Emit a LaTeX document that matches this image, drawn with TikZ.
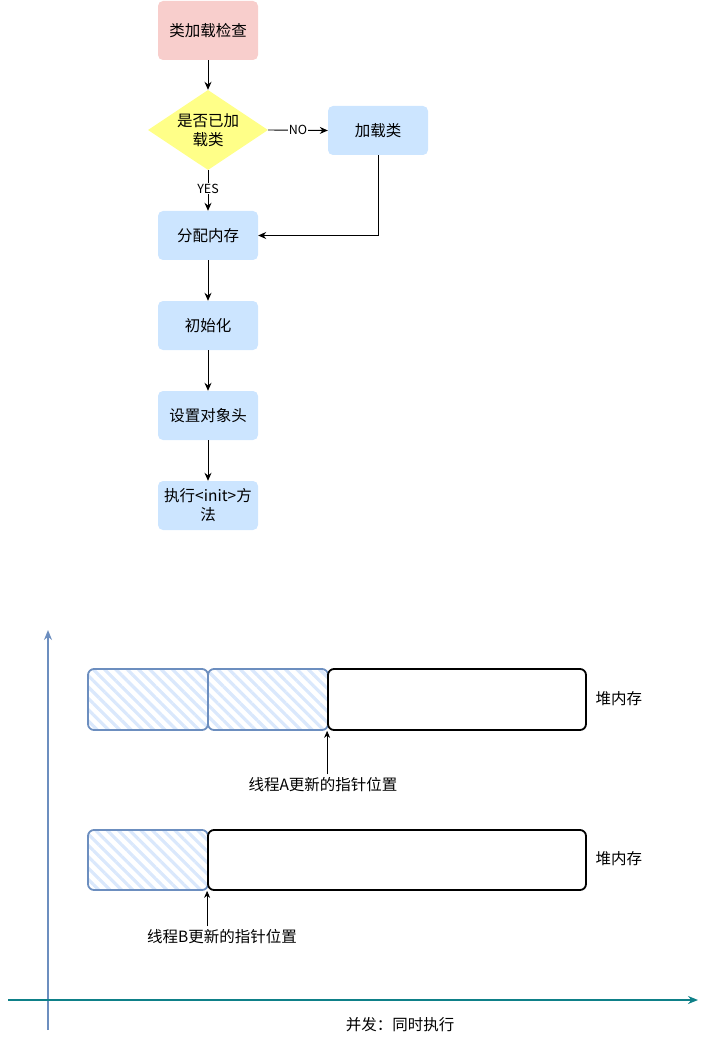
\documentclass[tikz,border=0pt]{standalone}
\usepackage{fontspec}
\setmainfont{Noto Sans CJK SC}
\usetikzlibrary{arrows.meta,shapes.geometric,patterns.meta}
\definecolor{redfill}{HTML}{F8CECC}
\definecolor{bluefill}{HTML}{CCE5FF}
\definecolor{yel}{HTML}{FFFF88}
\definecolor{hatchblue}{HTML}{DAE8FC}
\definecolor{axisblue}{HTML}{6C8EBF}
\definecolor{teal}{HTML}{0E8088}
\begin{document}
\begin{tikzpicture}[x=1pt,y=-1pt,
  every node/.style={font=\fontsize{15.5}{19}\selectfont},
  box/.style={rounded corners=5pt,minimum width=100pt,minimum height=50pt,align=center,inner sep=2pt},
  bluebox/.style={box,fill=bluefill},
  arr/.style={-{Stealth[length=8pt,width=7pt]},line width=0.9pt},
  lbl/.style={font=\fontsize{12.5}{14}\selectfont,fill=white,inner sep=1pt},
  hatch/.style={draw=axisblue,line width=1.8pt,rounded corners=6pt,
     pattern={Lines[angle=-45,distance=8pt,line width=3.2pt]},pattern color=hatchblue},
  heap/.style={draw=black,line width=1.8pt,rounded corners=6pt,fill=white},
]
\useasboundingbox (0,0) rectangle (708,1040);
% flowchart
\node[box,fill=redfill,minimum height=59pt] (check) at (208,30.5) {类加载检查};
\node[diamond,fill=yel,minimum width=120pt,minimum height=80pt,inner sep=0pt,aspect=1.5,align=center] (dec) at (208,130) {是否已加\\载类};
\node[bluebox,minimum height=49pt] (load) at (378,130.5) {加载类};
\node[bluebox,minimum height=49pt] (alloc) at (208,235.5) {分配内存};
\node[bluebox,minimum height=49pt] (init) at (208,325.5) {初始化};
\node[bluebox,minimum height=49pt] (head) at (208,415.5) {设置对象头};
\node[bluebox,minimum height=49pt] (exec) at (208,505.5) {执行<init>方\\法};
\draw[arr] (check) -- (dec);
\draw[arr] (dec.east) -- node[lbl] {NO} (load.west);
\draw[arr] (dec.south) -- node[lbl,pos=0.45] {YES} (alloc.north);
\draw[arr] (load.south) |- (alloc.east);
\draw[arr] (alloc) -- (init);
\draw[arr] (init) -- (head);
\draw[arr] (head) -- (exec);
% axes
\coordinate (yb) at (48,1030);
\coordinate (yt) at (48,630);
\coordinate (xl) at (8,1000);
\coordinate (xr) at (698,1000);
\draw[draw=axisblue,line width=1.6pt,-{Stealth[length=10pt,width=8pt]}] (yb) -- (yt);
\draw[draw=teal,line width=1.6pt,-{Stealth[length=10pt,width=8pt]}] (xl) -- (xr);
\node (xlabel) at (400,1025) {并发：同时执行};
% row 1
\path[hatch] (88,669) rectangle (208,730);
\path[hatch] (208,669) rectangle (328,730);
\node[heap,minimum width=258pt,minimum height=61pt,inner sep=0pt] (heapA) at (457,699.5) {};
\node[anchor=west] (hA) at (592,699) {堆内存};
\node (labA) at (323,785) {线程A更新的指针位置};
\draw[-{Stealth[length=7pt,width=6pt]},line width=0.7pt] (labA.north -| heapA.south west) -- (heapA.south west);
% row 2
\path[hatch] (88,830) rectangle (208,890);
\node[heap,minimum width=378pt,minimum height=60pt,inner sep=0pt] (heapB) at (397,860) {};
\node[anchor=west] (hB) at (592,859) {堆内存};
\node (labB) at (222,937) {线程B更新的指针位置};
\draw[-{Stealth[length=7pt,width=6pt]},line width=0.7pt] (labB.north -| heapB.south west) -- (heapB.south west);
\end{tikzpicture}
\end{document}
